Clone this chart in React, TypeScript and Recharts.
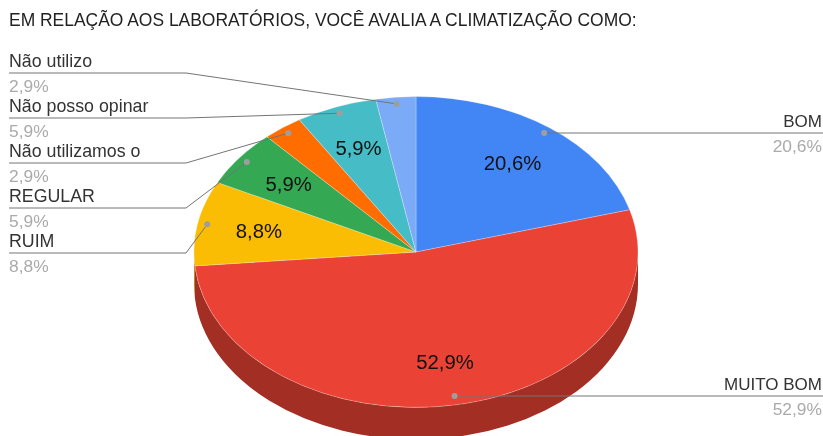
import { PieChart, Pie } from 'recharts'

const categories = ['BOM', 'MUITO BOM', 'RUIM', 'REGULAR', 'Não utilizamos o', 'Não posso opinar', 'Não utilizo']
const percents = [20.6, 52.9, 8.8, 5.9, 2.9, 5.9, 2.9]
const percentLabels = ['20,6%', '52,9%', '8,8%', '5,9%', '2,9%', '5,9%', '2,9%']
const colors = ['#4285f4', '#ea4335', '#fbbc04', '#34a853', '#ff6d01', '#46bdc6', '#7baaf7']
const sideColors = ['#2e5dab', '#a22e24', '#b08403', '#247639', '#b34c01', '#31848b', '#5677ad']

const FONT = '"Liberation Sans", Arial, sans-serif'
const squash = 0.7
const depth = 32
const radius = 222

// where each leader line ends up: rowY is the horizontal run, the text sits on it
const leaderRows = [
  { side: 'right', rowY: 133 },
  { side: 'right', rowY: 396 },
  { side: 'left', rowY: 253 },
  { side: 'left', rowY: 208 },
  { side: 'left', rowY: 163 },
  { side: 'left', rowY: 118 },
  { side: 'left', rowY: 73 },
]

const data = categories.map((name, i) => ({
  name,
  value: percents[i],
  label: percentLabels[i],
  fill: colors[i],
  side: sideColors[i],
}))

const RAD = Math.PI / 180

const pt = (cx: number, cy: number, r: number, a: number, k = 1) => ({
  x: cx + r * k * Math.cos(a * RAD),
  y: cy - r * k * squash * Math.sin(a * RAD),
})

function TopSlice(p: any) {
  const { cx, cy, outerRadius, startAngle, endAngle, fill } = p
  const a = pt(cx, cy, outerRadius, startAngle)
  const b = pt(cx, cy, outerRadius, endAngle)
  const large = startAngle - endAngle > 180 ? 1 : 0
  const ry = outerRadius * squash
  const d = `M${cx},${cy}L${a.x},${a.y}A${outerRadius},${ry} 0 ${large} 1 ${b.x},${b.y}Z`
  return <path d={d} fill={fill} stroke="#fff" strokeOpacity={0.45} strokeWidth={0.6} />
}

function SideSlice(p: any) {
  const { cx, cy, outerRadius, startAngle, endAngle, payload } = p
  // only the front half of the rim is visible
  const hi = Math.min(startAngle, 0)
  const lo = Math.max(endAngle, -180)
  if (lo >= hi) return null
  const a = pt(cx, cy, outerRadius, hi)
  const b = pt(cx, cy, outerRadius, lo)
  const large = hi - lo > 180 ? 1 : 0
  const ry = outerRadius * squash
  const d =
    `M${a.x},${a.y}A${outerRadius},${ry} 0 ${large} 1 ${b.x},${b.y}` +
    `L${b.x},${b.y + depth}A${outerRadius},${ry} 0 ${large} 0 ${a.x},${a.y + depth}Z`
  return <path d={d} fill={payload.side} />
}

function SliceLabel(p: any) {
  const { cx, cy, outerRadius, midAngle, index, payload } = p
  const row = leaderRows[index]
  const anchor = pt(cx, cy, outerRadius, midAngle, 0.957)
  const inner = pt(cx, cy, outerRadius, midAngle, 0.72)
  const left = row.side === 'left'
  const line = left
    ? `9,${row.rowY} 186,${row.rowY} ${anchor.x},${anchor.y}`
    : `${anchor.x},${row.rowY} 823,${row.rowY}`
  const textX = left ? 9 : 822
  const textAnchor = left ? 'start' : 'end'
  const fontSize = left ? 17.8 : 17
  return (
    <g fontFamily={FONT}>
      <polyline points={line} fill="none" stroke="#757575" strokeWidth={1} />
      <circle cx={anchor.x} cy={left ? anchor.y : row.rowY} r={3} fill="#9e9e9e" />
      <text x={textX} y={row.rowY - 6} textAnchor={textAnchor} fontSize={fontSize} fill="#333">
        {payload.name}
      </text>
      <text x={textX} y={row.rowY + 19} textAnchor={textAnchor} fontSize={17.4} fill="#aaa">
        {payload.label}
      </text>
      {payload.value > 3 && (
        <text x={inner.x} y={inner.y + 7} textAnchor="middle" fontSize={20.3} fill="#111">
          {payload.label}
        </text>
      )}
    </g>
  )
}

export default function App() {
  return (
    <div
      style={{
        position: 'absolute',
        left: 0,
        top: 0,
        width: 823,
        height: 436,
        background: '#fff',
        filter: 'blur(0.4px)',
      }}
    >
      <div
        style={{
          position: 'absolute',
          left: 9,
          top: 10,
          fontFamily: FONT,
          fontSize: 17.45,
          lineHeight: '20px',
          color: '#222',
          whiteSpace: 'nowrap',
        }}
      >
        EM RELAÇÃO AOS LABORATÓRIOS, VOCÊ AVALIA A CLIMATIZAÇÃO COMO:
      </div>
      <PieChart width={823} height={436} margin={{ top: 0, right: 0, bottom: 0, left: 0 }}>
        <Pie
          data={data}
          dataKey="value"
          nameKey="name"
          cx={416}
          cy={252}
          outerRadius={radius}
          startAngle={90}
          endAngle={-270}
          stroke="none"
          shape={SideSlice}
          isAnimationActive={false}
        />
        <Pie
          data={data}
          dataKey="value"
          nameKey="name"
          cx={416}
          cy={252}
          outerRadius={radius}
          startAngle={90}
          endAngle={-270}
          shape={TopSlice}
          label={SliceLabel}
          labelLine={false}
          isAnimationActive={false}
        />
      </PieChart>
    </div>
  )
}
